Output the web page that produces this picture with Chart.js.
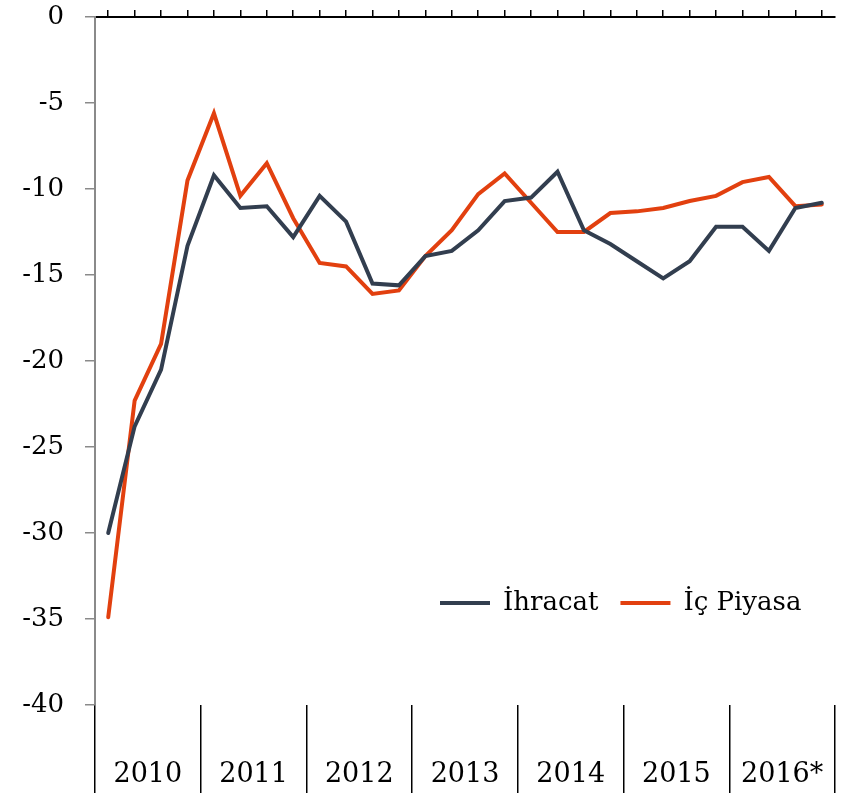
<!DOCTYPE html>
<html><head><meta charset="utf-8">
<script src="https://cdn.jsdelivr.net/npm/chart.js@4/dist/chart.umd.min.js"></script>
<style>html,body{margin:0;padding:0;background:#fff;}canvas{display:block;}</style>
</head><body>
<canvas id="c" width="845" height="793"></canvas>
<script>
const quarters = [
  '2010 Ç1','2010 Ç2','2010 Ç3','2010 Ç4',
  '2011 Ç1','2011 Ç2','2011 Ç3','2011 Ç4',
  '2012 Ç1','2012 Ç2','2012 Ç3','2012 Ç4',
  '2013 Ç1','2013 Ç2','2013 Ç3','2013 Ç4',
  '2014 Ç1','2014 Ç2','2014 Ç3','2014 Ç4',
  '2015 Ç1','2015 Ç2','2015 Ç3','2015 Ç4',
  '2016 Ç1','2016 Ç2','2016 Ç3','2016 Ç4'
];
const years = ['2010','2011','2012','2013','2014','2015','2016*'];
const ihracat = [-30.0, -23.8, -20.5, -13.3, -9.2, -11.1, -11.0, -12.8, -10.4, -11.9, -15.5, -15.6,
                 -13.9, -13.6, -12.4, -10.7, -10.5, -9.0, -12.4, -13.2, -14.2, -15.2, -14.2, -12.2,
                 -12.2, -13.6, -11.1, -10.8];
const icPiyasa = [-34.9, -22.3, -19.0, -9.5, -5.6, -10.4, -8.5, -11.7, -14.3, -14.5, -16.1, -15.9,
                  -13.9, -12.4, -10.3, -9.1, -10.8, -12.5, -12.5, -11.4, -11.3, -11.1, -10.7, -10.4,
                  -9.6, -9.3, -11.0, -10.9];
const yMin = -40, yMax = 0, yStep = 5;

const FONT = "'DejaVu Serif', serif";

const legendPlacer = {
  id: 'legendPlacer',
  beforeLayout(chart) {
    const lg = chart.legend;
    if (lg && !lg._patched) {
      const f = lg.fit.bind(lg);
      lg.fit = function () { f(); this._realH = this.height; this.height = 0; };
      lg._patched = true;
    }
  },
  afterLayout(chart) {
    const lg = chart.legend;
    if (!lg) return;
    lg.left = 418; lg.width = 410; lg.right = lg.left + lg.width;
    lg.top = 568; lg.height = lg._realH || 60; lg.bottom = lg.top + lg.height;
  }
};

new Chart(document.getElementById('c'), {
  type: 'line',
  data: {
    labels: quarters,
    datasets: [
      { label: 'İhracat', data: ihracat, borderColor: '#323e4f', backgroundColor: '#323e4f',
        borderWidth: 4, pointRadius: 0, tension: 0, borderCapStyle: 'round', xAxisID: 'x' },
      { label: 'İç Piyasa', data: icPiyasa, borderColor: '#e2400f', backgroundColor: '#e2400f',
        borderWidth: 4, pointRadius: 0, tension: 0, borderCapStyle: 'round', xAxisID: 'x' }
    ]
  },
  options: {
    responsive: false,
    animation: false,
    layout: { padding: { left: 0, right: 10, top: 10, bottom: 0 } },
    plugins: {
      tooltip: { enabled: false },
      legend: {
        position: 'top', align: 'start',
        labels: {
          usePointStyle: true, pointStyle: 'line', pointStyleWidth: 50,
          color: '#000', font: { family: FONT, size: 26 }, padding: 22, boxHeight: 26
        }
      }
    },
    scales: {
      x: {
        type: 'category', position: 'top', offset: true,
        grid: { offset: false, drawOnChartArea: false, tickLength: 7, color: '#000', lineWidth: 1.5 },
        border: { display: true, color: '#000', width: 2 },
        ticks: { display: false },
        afterFit(s) { s.height = 7; s.paddingLeft = 0; s.paddingRight = 0; }
      },
      x2: {
        type: 'category', position: 'bottom', labels: years, offset: true,
        grid: { offset: true, drawOnChartArea: false, tickLength: 88, color: '#000', lineWidth: 1.5 },
        border: { display: false },
        ticks: { color: '#000', font: { family: FONT, size: 27 }, padding: -34, maxRotation: 0, autoSkip: false },
        afterFit(s) { s.height = 88; s.paddingLeft = 0; s.paddingRight = 0; }
      },
      y: {
        min: yMin, max: yMax,
        grid: { drawOnChartArea: false, tickLength: 10, color: '#8a8a8a', lineWidth: 1.5 },
        border: { display: true, color: '#8a8a8a', width: 2 },
        ticks: { stepSize: yStep, color: '#000', font: { family: FONT, size: 26 }, padding: 21 },
        afterFit(s) { s.width = 95; s.paddingTop = 0; s.paddingBottom = 0; }
      }
    }
  },
  plugins: [legendPlacer]
});
</script>
</body></html>
